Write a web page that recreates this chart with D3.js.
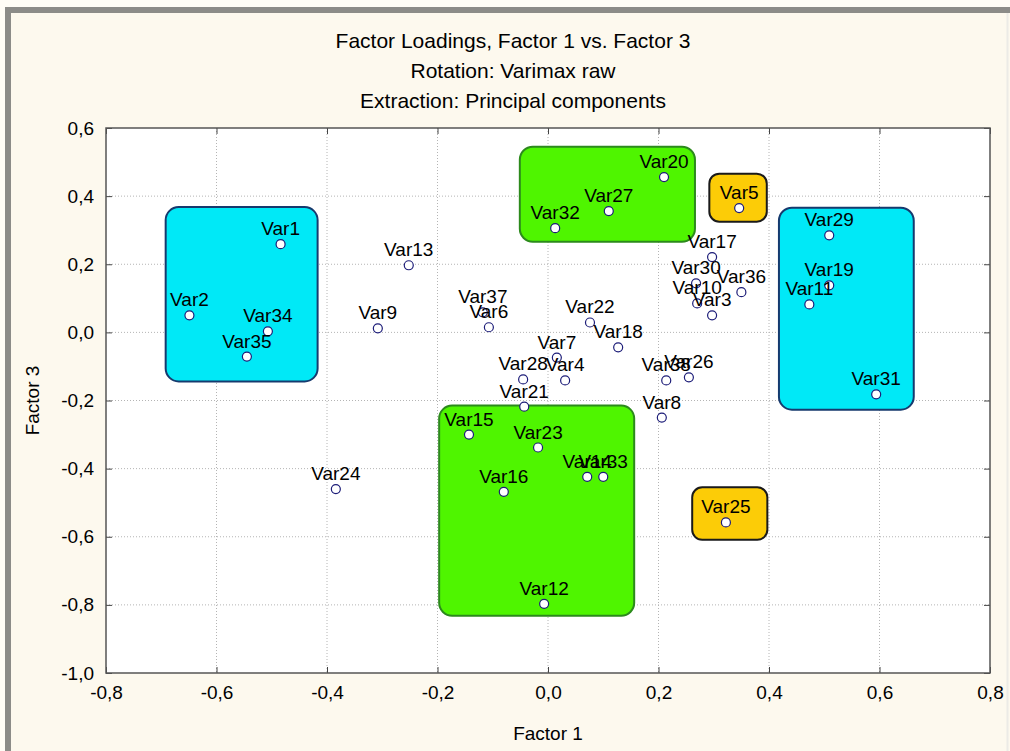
<!DOCTYPE html>
<html>
<head>
<meta charset="utf-8">
<script src="https://cdn.jsdelivr.net/npm/d3@7"></script>
<style>
  html, body { margin: 0; padding: 0; background: #fff; }
  svg { display: block; font-family: "Liberation Sans", Arial, sans-serif; }
</style>
</head>
<body>
<script>
// variable names and their loadings
var varNames = ["Var1","Var2","Var3","Var4","Var5","Var6","Var7","Var8","Var9","Var10",
                "Var11","Var12","Var13","Var14","Var15","Var16","Var17","Var18","Var19","Var20",
                "Var21","Var22","Var23","Var24","Var25","Var26","Var27","Var28","Var29","Var30",
                "Var31","Var32","Var33","Var34","Var35","Var36","Var37","Var38"];
var factor1 = [-0.484,-0.649, 0.297, 0.031, 0.346,-0.107, 0.016, 0.206,-0.308, 0.270,
                0.473,-0.007,-0.252, 0.071,-0.143,-0.080, 0.297, 0.127, 0.509, 0.210,
               -0.043, 0.076,-0.018,-0.384, 0.322, 0.255, 0.110,-0.045, 0.509, 0.268,
                0.594, 0.013, 0.100,-0.507,-0.545, 0.350,-0.118, 0.214];
var factor3 = [ 0.259, 0.050, 0.050,-0.141, 0.365, 0.015,-0.074,-0.250, 0.012, 0.085,
                0.082,-0.797, 0.197,-0.424,-0.300,-0.468, 0.221,-0.044, 0.138, 0.456,
               -0.218, 0.029,-0.338,-0.460,-0.558,-0.132, 0.356,-0.138, 0.285, 0.144,
               -0.182, 0.306,-0.424, 0.003,-0.071, 0.118, 0.059,-0.141];

// highlighted groups (data units)
var groupX0 = [-0.692,-0.051, 0.292, 0.418,-0.197, 0.261];
var groupX1 = [-0.417, 0.266, 0.396, 0.662, 0.156, 0.397];
var groupY0 = [-0.144, 0.266, 0.325,-0.227,-0.832,-0.609];
var groupY1 = [ 0.368, 0.545, 0.466, 0.366,-0.215,-0.455];
var groupFill   = ["#00e9f7","#4ff500","#fccc07","#00e9f7","#4ff500","#fccc07"];
var groupStroke = ["#163a6e","#2c8a1c","#1a1a1a","#163a6e","#2c8a1c","#1a1a1a"];

var xTicks = [-0.8,-0.6,-0.4,-0.2,0.0,0.2,0.4,0.6,0.8];
var yTicks = [-1.0,-0.8,-0.6,-0.4,-0.2,0.0,0.2,0.4,0.6];
var titleLines = ["Factor Loadings, Factor 1 vs. Factor 3","Rotation: Varimax raw","Extraction: Principal components"];

var W = 1010, H = 751;
var pLeft = 106, pRight = 990, pTop = 128, pBottom = 673;

var svg = d3.select("body").append("svg").attr("width", W).attr("height", H);

// window frame
svg.append("rect").attr("x", 0).attr("y", 0).attr("width", W).attr("height", H).attr("fill", "#fffdf6");
svg.append("rect").attr("x", 5).attr("y", 7).attr("width", W - 5).attr("height", H - 7).attr("fill", "#8c8c88");
svg.append("rect").attr("x", 11).attr("y", 13).attr("width", W - 11).attr("height", H - 13).attr("fill", "#fdf9ee");
svg.append("line").attr("x1", W - 2.5).attr("x2", W - 2.5).attr("y1", 13).attr("y2", H).attr("stroke", "#ecebe6").attr("stroke-width", 2);

var x = d3.scaleLinear().domain([-0.8, 0.8]).range([pLeft, pRight]);
var y = d3.scaleLinear().domain([-1.0, 0.6]).range([pBottom, pTop]);
var fmt = function(d) { return d3.format(".1f")(d).replace(".", ",").replace("−", "-"); };

// plot area
svg.append("rect").attr("x", pLeft).attr("y", pTop).attr("width", pRight - pLeft).attr("height", pBottom - pTop).attr("fill", "#fff");

// dotted grid
svg.append("g").selectAll("line").data(xTicks.slice(1, -1)).enter().append("line")
  .attr("x1", function(d) { return x(d); }).attr("x2", function(d) { return x(d); })
  .attr("y1", pTop).attr("y2", pBottom)
  .attr("stroke", "#b4b4b4").attr("stroke-dasharray", "1,2");
svg.append("g").selectAll("line").data(yTicks.slice(1, -1)).enter().append("line")
  .attr("y1", function(d) { return y(d); }).attr("y2", function(d) { return y(d); })
  .attr("x1", pLeft).attr("x2", pRight)
  .attr("stroke", "#b4b4b4").attr("stroke-dasharray", "1,2");

// group boxes
var groups = d3.range(groupX0.length);
svg.append("g").selectAll("rect").data(groups).enter().append("rect")
  .attr("x", function(i) { return x(groupX0[i]); })
  .attr("y", function(i) { return y(groupY1[i]); })
  .attr("width", function(i) { return x(groupX1[i]) - x(groupX0[i]); })
  .attr("height", function(i) { return y(groupY0[i]) - y(groupY1[i]); })
  .attr("rx", function(i) { return (x(groupX1[i]) - x(groupX0[i])) < 100 ? 10 : 13; })
  .attr("fill", function(i) { return groupFill[i]; })
  .attr("stroke", function(i) { return groupStroke[i]; })
  .attr("stroke-width", 2);

// frame + inward ticks on all sides
svg.append("g").attr("transform", "translate(0," + pBottom + ")")
  .call(d3.axisBottom(x).tickValues(xTicks).tickSizeInner(-6).tickSizeOuter(0).tickFormat(fmt))
  .call(function(g) {
    g.select(".domain").remove();
    g.selectAll("text").attr("dy", null).attr("y", 26).attr("font-size", 19).attr("font-family", null).attr("fill", "#000");
    g.selectAll("line").attr("stroke", "#444");
  });
svg.append("g").attr("transform", "translate(" + pLeft + ",0)")
  .call(d3.axisLeft(y).tickValues(yTicks).tickSizeInner(-6).tickSizeOuter(0).tickFormat(fmt))
  .call(function(g) {
    g.select(".domain").remove();
    g.selectAll("text").attr("x", -12).attr("font-size", 19).attr("font-family", null).attr("fill", "#000");
    g.selectAll("line").attr("stroke", "#444");
  });
svg.append("g").attr("transform", "translate(0," + pTop + ")")
  .call(d3.axisTop(x).tickValues(xTicks).tickSizeInner(-6).tickSizeOuter(0).tickFormat(""))
  .call(function(g) { g.select(".domain").remove(); g.selectAll("line").attr("stroke", "#444"); });
svg.append("g").attr("transform", "translate(" + pRight + ",0)")
  .call(d3.axisRight(y).tickValues(yTicks).tickSizeInner(-6).tickSizeOuter(0).tickFormat(""))
  .call(function(g) { g.select(".domain").remove(); g.selectAll("line").attr("stroke", "#444"); });
svg.append("rect").attr("x", pLeft).attr("y", pTop).attr("width", pRight - pLeft).attr("height", pBottom - pTop)
  .attr("fill", "none").attr("stroke", "#555").attr("stroke-width", 1.5);

// points
var pts = d3.range(varNames.length);
svg.append("g").selectAll("circle").data(pts).enter().append("circle")
  .attr("cx", function(i) { return x(factor1[i]); })
  .attr("cy", function(i) { return y(factor3[i]); })
  .attr("r", 4.5)
  .attr("fill", "#fff")
  .attr("stroke", "#1c1c78")
  .attr("stroke-width", 1.2);

// point labels
svg.append("g").selectAll("text").data(pts).enter().append("text")
  .attr("x", function(i) { return x(factor1[i]); })
  .attr("y", function(i) { return y(factor3[i]) - 9; })
  .attr("text-anchor", "middle")
  .attr("font-size", 19)
  .attr("fill", "#000")
  .text(function(i) { return varNames[i]; });

// titles
svg.append("g").selectAll("text").data(titleLines).enter().append("text")
  .attr("x", 513)
  .attr("y", function(d, i) { return 48 + i * 30; })
  .attr("text-anchor", "middle")
  .attr("font-size", 21)
  .attr("fill", "#000")
  .text(function(d) { return d; });

svg.append("text").attr("x", (pLeft + pRight) / 2).attr("y", 740)
  .attr("text-anchor", "middle").attr("font-size", 19).attr("fill", "#000").text("Factor 1");
svg.append("text").attr("transform", "translate(39," + ((pTop + pBottom) / 2) + ") rotate(-90)")
  .attr("text-anchor", "middle").attr("font-size", 19).attr("fill", "#000").text("Factor 3");
</script>
</body>
</html>
